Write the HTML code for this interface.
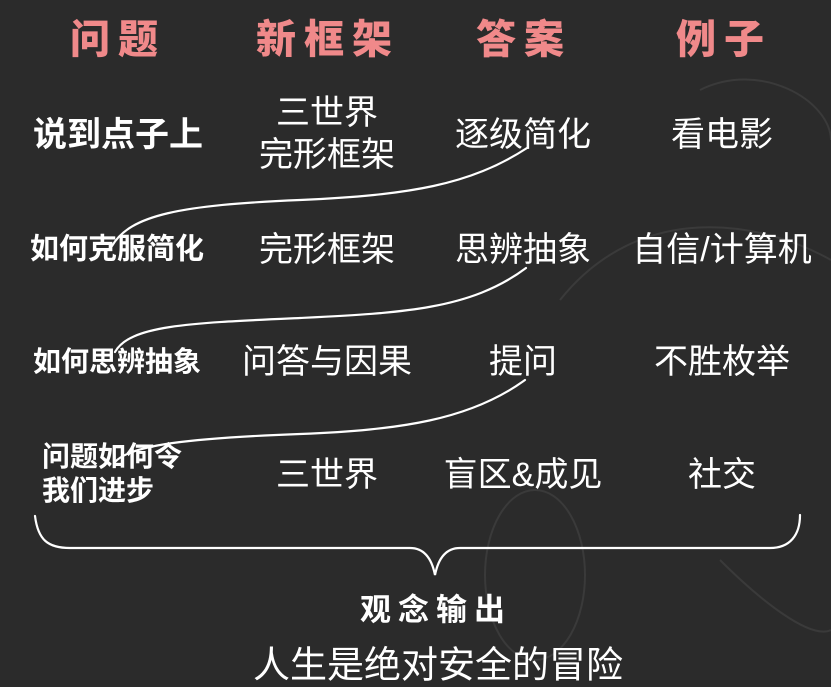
<!DOCTYPE html>
<html><head><meta charset="utf-8"><style>
html,body{margin:0;padding:0;}
body{width:831px;height:687px;background:#2b2b2b;position:relative;overflow:hidden;font-family:"Liberation Sans","Noto Sans CJK SC",sans-serif;color:#fff;}
.t{position:absolute;white-space:nowrap;transform:translate(-50%,-50%);line-height:1;}
.h{color:#f0898a;font-weight:900;font-size:40px;letter-spacing:8px;}
.n{font-size:34px;}
.b{font-weight:bold;}
svg{position:absolute;left:0;top:0;}
</style></head><body>
<svg width="831" height="687">
<g fill="none" stroke="#444" stroke-width="2" opacity="0.6">
<path d="M700,90 C760,60 830,100 831,140"/>
<path d="M560,300 C640,200 760,220 831,260"/>
<ellipse cx="535" cy="575" rx="50" ry="85"/>
<path d="M720,560 C760,600 810,640 831,630"/>
</g>
<g fill="none" stroke="#fff" stroke-width="2.2" stroke-linecap="round">
<path d="M527,148 C470,185 410,195 300,200 C180,205 130,215 112,246"/>
<path d="M526,268 C470,310 400,313 300,318 C190,323 130,325 115,352"/>
<path d="M525,380 C470,420 400,430 300,434 C190,438 130,445 115,462"/>
<path d="M35,516 C38,540 48,548 70,548 L410,548 C425,548 432,560 435,575 C438,560 445,548 460,548 L770,548 C790,548 800,535 800,515"/>
</g>
</svg>
<div class="t h" style="left:118px;top:40px">问题</div>
<div class="t h" style="left:328px;top:40px">新框架</div>
<div class="t h" style="left:524px;top:40px">答案</div>
<div class="t h" style="left:724px;top:40px">例子</div>

<div class="t b" style="left:118px;top:135px;font-size:34px">说到点子上</div>
<div class="t n" style="left:327px;top:113px">三世界</div>
<div class="t n" style="left:327px;top:155px">完形框架</div>
<div class="t n" style="left:523px;top:135px">逐级简化</div>
<div class="t n" style="left:722px;top:135px">看电影</div>

<div class="t b" style="left:117px;top:250px;font-size:29px">如何克服简化</div>
<div class="t n" style="left:327px;top:250px">完形框架</div>
<div class="t n" style="left:523px;top:250px">思辨抽象</div>
<div class="t n" style="left:722px;top:250px">自信/计算机</div>

<div class="t b" style="left:117px;top:362px;font-size:28px">如何思辨抽象</div>
<div class="t n" style="left:327px;top:362px">问答与因果</div>
<div class="t n" style="left:523px;top:362px">提问</div>
<div class="t n" style="left:722px;top:362px">不胜枚举</div>

<div class="b" style="position:absolute;left:42px;top:440px;font-size:28px;line-height:34px">问题如何令<br>我们进步</div>
<div class="t n" style="left:327px;top:475px">三世界</div>
<div class="t n" style="left:523px;top:475px">盲区&amp;成见</div>
<div class="t n" style="left:722px;top:475px">社交</div>

<div class="t b" style="left:436px;top:610px;font-size:31px;letter-spacing:7px">观念输出</div>
<div class="t" style="left:438px;top:665px;font-size:37px">人生是绝对安全的冒险</div>
</body></html>
